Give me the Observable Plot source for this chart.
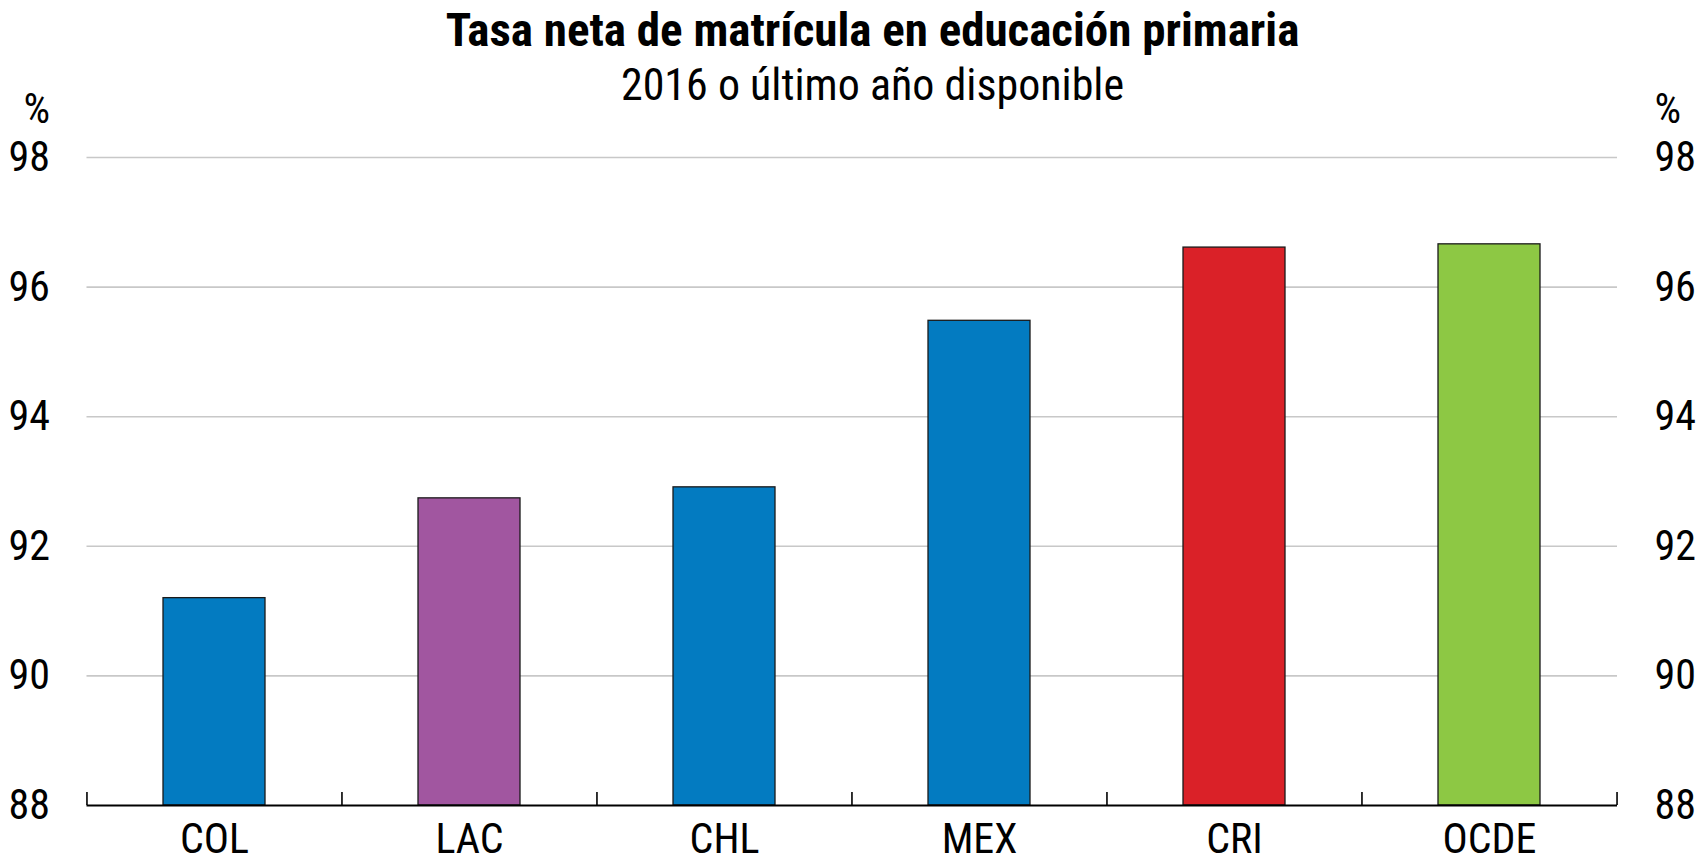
<!DOCTYPE html>
<html>
<head>
<meta charset="utf-8">
<script src="https://cdn.jsdelivr.net/npm/d3@7"></script>
<script src="https://cdn.jsdelivr.net/npm/@observablehq/plot@0.6"></script>
<style>
  html, body { margin: 0; padding: 0; background: #fff; }
  body { width: 1696px; height: 863px; overflow: hidden; font-family: "Roboto Condensed", "Open Sans Condensed", sans-serif; }
  #head { position: relative; height: 88px; width: 1696px; }
  #title { position: absolute; left: 0; width: 1745px; top: 6px; text-align: center; font-weight: bold; font-size: 47px; line-height: 48px; color: #000; }
  #subtitle { position: absolute; left: 0; width: 1745px; top: 62px; text-align: center; font-size: 44px; line-height: 46px; color: #000; }
  #chart svg { display: block; overflow: visible; }
</style>
</head>
<body>
<div id="head">
  <div id="title">Tasa neta de matrícula en educación primaria</div>
  <div id="subtitle">2016 o último año disponible</div>
</div>
<div id="chart"></div>
<script>
const categories = ["COL", "LAC", "CHL", "MEX", "CRI", "OCDE"];
const values = [91.2, 92.74, 92.91, 95.48, 96.61, 96.66];
const groups = ["country", "region", "country", "country", "highlight", "oecd"];
const groupDomain = ["country", "region", "highlight", "oecd"];
const groupColors = ["#037BC1", "#A156A0", "#DA2128", "#8DC844"];
const yTicks = [88, 90, 92, 94, 96, 98];
const unitLabel = "%";

const data = categories.map((c, i) => ({cat: c, value: values[i], group: groups[i]}));

const W = 1696, H = 775;
const mL = 86.5, mR = 79, mT = 69, mB = 58;
const step = (W - mL - mR) / categories.length;
const boundaries = categories.map(c => ({cat: c, side: -1})).concat([{cat: categories[categories.length - 1], side: 1}]);
const font = "'Roboto Condensed', 'Open Sans Condensed', sans-serif";

const chart = Plot.plot({
  width: W,
  height: H,
  marginLeft: mL,
  marginRight: mR,
  marginTop: mT,
  marginBottom: mB,
  style: {fontFamily: font, fontSize: "40px", color: "#000", background: "#fff"},
  x: {domain: categories, paddingInner: 0.6, paddingOuter: 0.3, align: 0.5, label: null},
  y: {domain: [88, 98], label: null},
  color: {domain: groupDomain, range: groupColors},
  marks: [
    Plot.gridY(yTicks.filter(t => t > 88), {stroke: "#c8c8c8", strokeOpacity: 1, strokeWidth: 1.6}),
    Plot.barY(data, {x: "cat", y1: 88, y2: "value", fill: "group", stroke: "#1a1a1a", strokeWidth: 1.3}),
    Plot.ruleY([88], {stroke: "#000", strokeWidth: 2}),
    Plot.ruleX(boundaries, {x: "cat", y1: 88, y2: 88.2, stroke: "#000", strokeWidth: 1.6}),
    Plot.axisY(yTicks, {anchor: "left", tickSize: 0, tickPadding: 37, fontSize: 42, tickFormat: d => String(d), label: null}),
    Plot.axisY(yTicks, {anchor: "right", tickSize: 0, tickPadding: 37, fontSize: 42, tickFormat: d => String(d), label: null}),
    Plot.axisX({tickSize: 0, tickPadding: 18, fontSize: 42, label: null}),
    Plot.text([unitLabel], {frameAnchor: "top-left", dx: -37, dy: -48, textAnchor: "end", lineAnchor: "middle", fontSize: 42}),
    Plot.text([unitLabel], {frameAnchor: "top-right", dx: 37, dy: -48, textAnchor: "start", lineAnchor: "middle", fontSize: 42})
  ]
});

// shift boundary ticks to band edges (half a step left of each category, last one to the right)
const ruleGroups = chart.querySelectorAll("g[aria-label='rule']");
const tickGroup = ruleGroups[ruleGroups.length - 1];
tickGroup.querySelectorAll("line").forEach((ln, i) => {
  const s = boundaries[i].side;
  ln.setAttribute("transform", `translate(${s * step / 2},0)`);
});

document.getElementById("chart").appendChild(chart);
</script>
</body>
</html>
